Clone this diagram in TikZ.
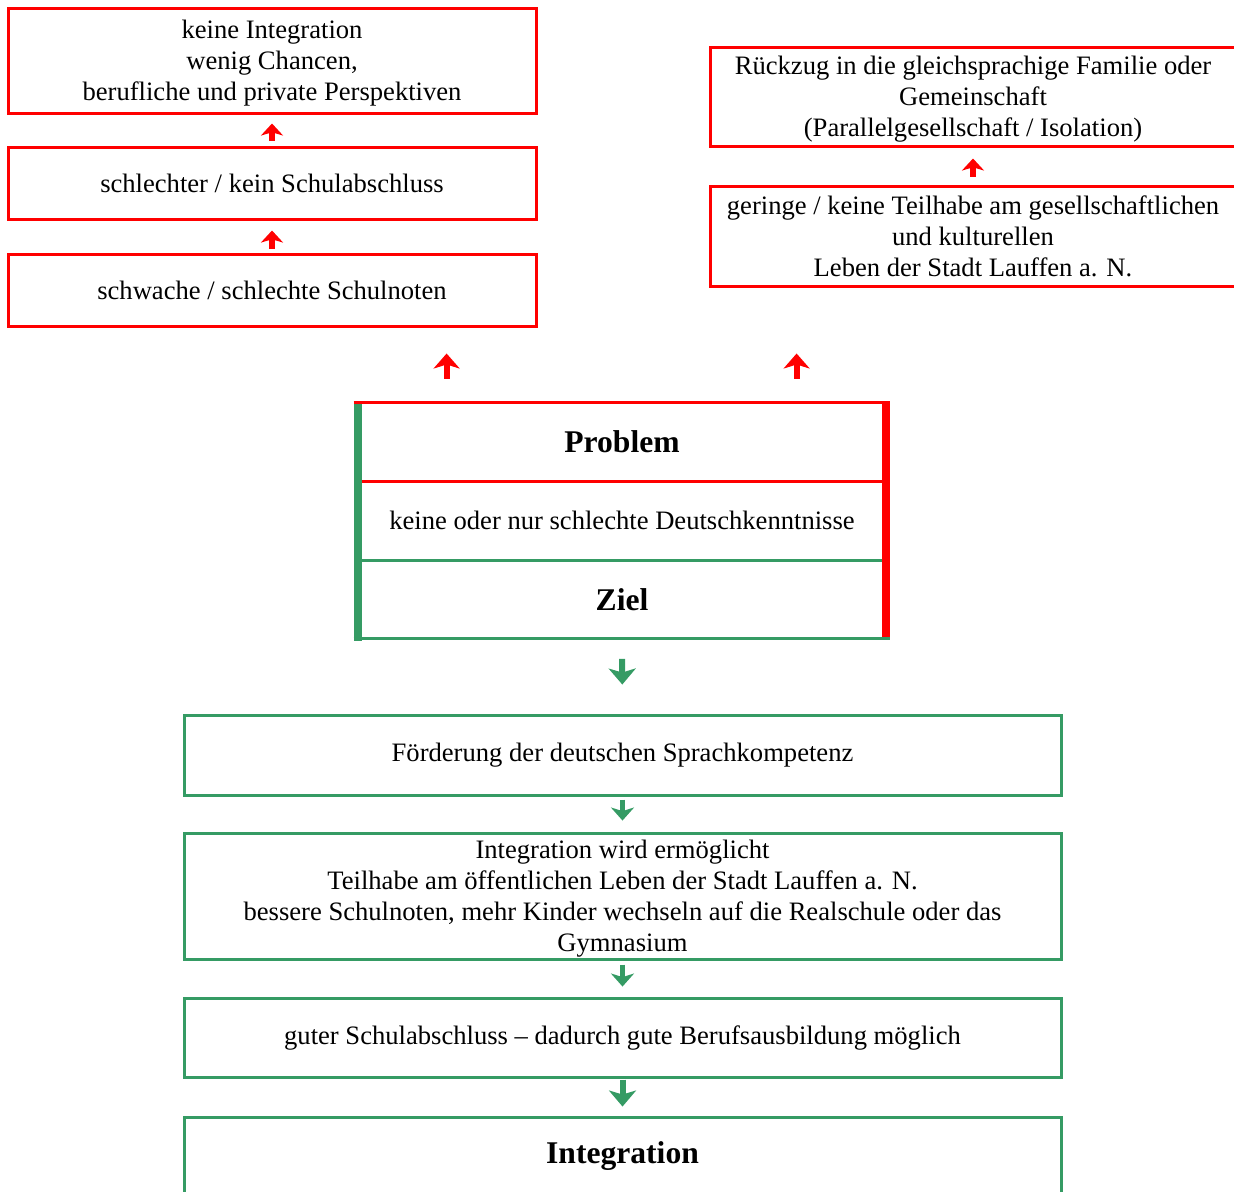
\documentclass[tikz,border=0pt]{standalone}
\usepackage{fontspec}
\setmainfont{Liberation Serif}
\usetikzlibrary{arrows.meta}
\definecolor{rd}{RGB}{255,0,0}
\definecolor{gn}{RGB}{53,155,100}
\newcommand\mytopstrut{\rule{0pt}{12.2pt}}
\tikzset{
  txt/.style={font=\fontsize{13.3}{15.5}\selectfont, align=center, inner sep=0pt},
  redbox/.style={txt, draw=rd, line width=1.5pt},
  greenbox/.style={txt, draw=gn, line width=1.5pt},
  bigtxt/.style={font=\fontsize{15.8}{18}\selectfont\bfseries, align=center, inner sep=0pt},
  redarrow/.style={draw=rd, line width=2.8pt, -{Stealth[length=6pt, width=11pt, inset=1.6pt]}},
  bigredarrow/.style={draw=rd, line width=3pt, -{Stealth[length=7.5pt, width=13pt, inset=2pt]}},
  greenarrow/.style={draw=gn, line width=3pt, -{Stealth[length=8pt, width=13.5pt, inset=2pt]}},
  smallgreenarrow/.style={draw=gn, line width=2.8pt, -{Stealth[length=6.5pt, width=11.5pt, inset=1.8pt]}},
}
\begin{document}
\begin{tikzpicture}[x=0.5pt, y=-0.5pt]
\useasboundingbox (0,0) rectangle (1234,1191);
\clip (0,0) rectangle (1234,1191);

% left red chain
\node[redbox, minimum width=264pt, minimum height=52.5pt] (b1) at (272,60.5)
  {\mytopstrut keine Integration\\wenig Chancen,\\berufliche und private Perspektiven};
\node[redbox, minimum width=264pt, minimum height=36pt] (b2) at (272,183)
  {schlechter / kein Schulabschluss};
\node[redbox, minimum width=264pt, minimum height=36pt] (b3) at (272,290)
  {schwache / schlechte Schulnoten};

% right red chain
\node[redbox, minimum width=263pt, minimum height=49.5pt] (r1) at (973,96.5)
  {\mytopstrut Rückzug in die gleichsprachige Familie oder\\Gemeinschaft\\(Parallelgesellschaft / Isolation)};
\node[redbox, minimum width=263pt, minimum height=50pt] (r2) at (973,236)
  {geringe / keine Teilhabe am gesellschaftlichen\\und kulturellen\\Leben der Stadt Lauffen a. N.};

\draw[redarrow, shorten <=2pt, shorten >=5pt] (b3.north) -- (b2.south);
\draw[redarrow, shorten <=2.5pt, shorten >=4.5pt] (b2.north) -- (b1.south);
\draw[redarrow, shorten <=4pt, shorten >=5.5pt] (r2.north) -- (r1.south);

% central box
\node[bigtxt, minimum width=260pt, minimum height=39pt] (prob) at (622,442) {Problem};
\node[txt, minimum width=260pt, minimum height=39.5pt] (kenn) at (622,520.5) {keine oder nur schlechte Deutschkenntnisse};
\node[bigtxt, minimum width=260pt, minimum height=39pt] (ziel) at (622,599.5) {Ziel};

\fill[gn] ([xshift=-4pt]prob.north west) rectangle ([yshift=-1pt]ziel.south west);
\fill[rd] (prob.north east) rectangle ([xshift=4pt]ziel.south east);
\draw[rd, line width=1.5pt] ([xshift=-4pt]prob.north west) -- ([xshift=4pt]prob.north east);
\draw[rd, line width=1.5pt] (prob.south west) -- (prob.south east);
\draw[gn, line width=1.5pt] (kenn.south west) -- (kenn.south east);
\draw[gn, line width=1.5pt] ([xshift=-4pt]ziel.south west) -- ([xshift=4pt]ziel.south east);

\path (prob.north west) ++(85,0) coordinate (p1);
\path (prob.north west) ++(435,0) coordinate (p2);
\draw[bigredarrow, shorten <=12pt, shorten >=13pt] (p1) -- (p1 |- b3.south);
\draw[bigredarrow, shorten <=12pt, shorten >=33pt] (p2) -- (p2 |- r2.south);

% green chain
\node[greenbox, minimum width=438.5pt, minimum height=40pt] (g1) at (622.5,755)
  {Förderung der deutschen Sprachkompetenz};
\node[greenbox, minimum width=438.5pt, minimum height=63pt] (g2) at (622.5,896)
  {\mytopstrut Integration wird ermöglicht\\Teilhabe am öffentlichen Leben der Stadt Lauffen a. N.\\bessere Schulnoten, mehr Kinder wechseln auf die Realschule oder das\\Gymnasium};
\node[greenbox, minimum width=438.5pt, minimum height=39.5pt] (g3) at (622.5,1037.5)
  {guter Schulabschluss – dadurch gute Berufsausbildung möglich};
\node[greenbox, bigtxt, minimum width=438.5pt, minimum height=39pt] (g4) at (622.5,1156)
  {Integration};

\draw[greenarrow, shorten <=10pt, shorten >=14.5pt] (ziel.south) -- (g1.north);
\draw[smallgreenarrow, shorten <=1.5pt, shorten >=5.5pt] (g1.south) -- (g2.north);
\draw[smallgreenarrow, shorten <=2pt, shorten >=5pt] (g2.south) -- (g3.north);
\draw[greenarrow, shorten <=0.5pt, shorten >=4.5pt] (g3.south) -- (g4.north);
\end{tikzpicture}
\end{document}
